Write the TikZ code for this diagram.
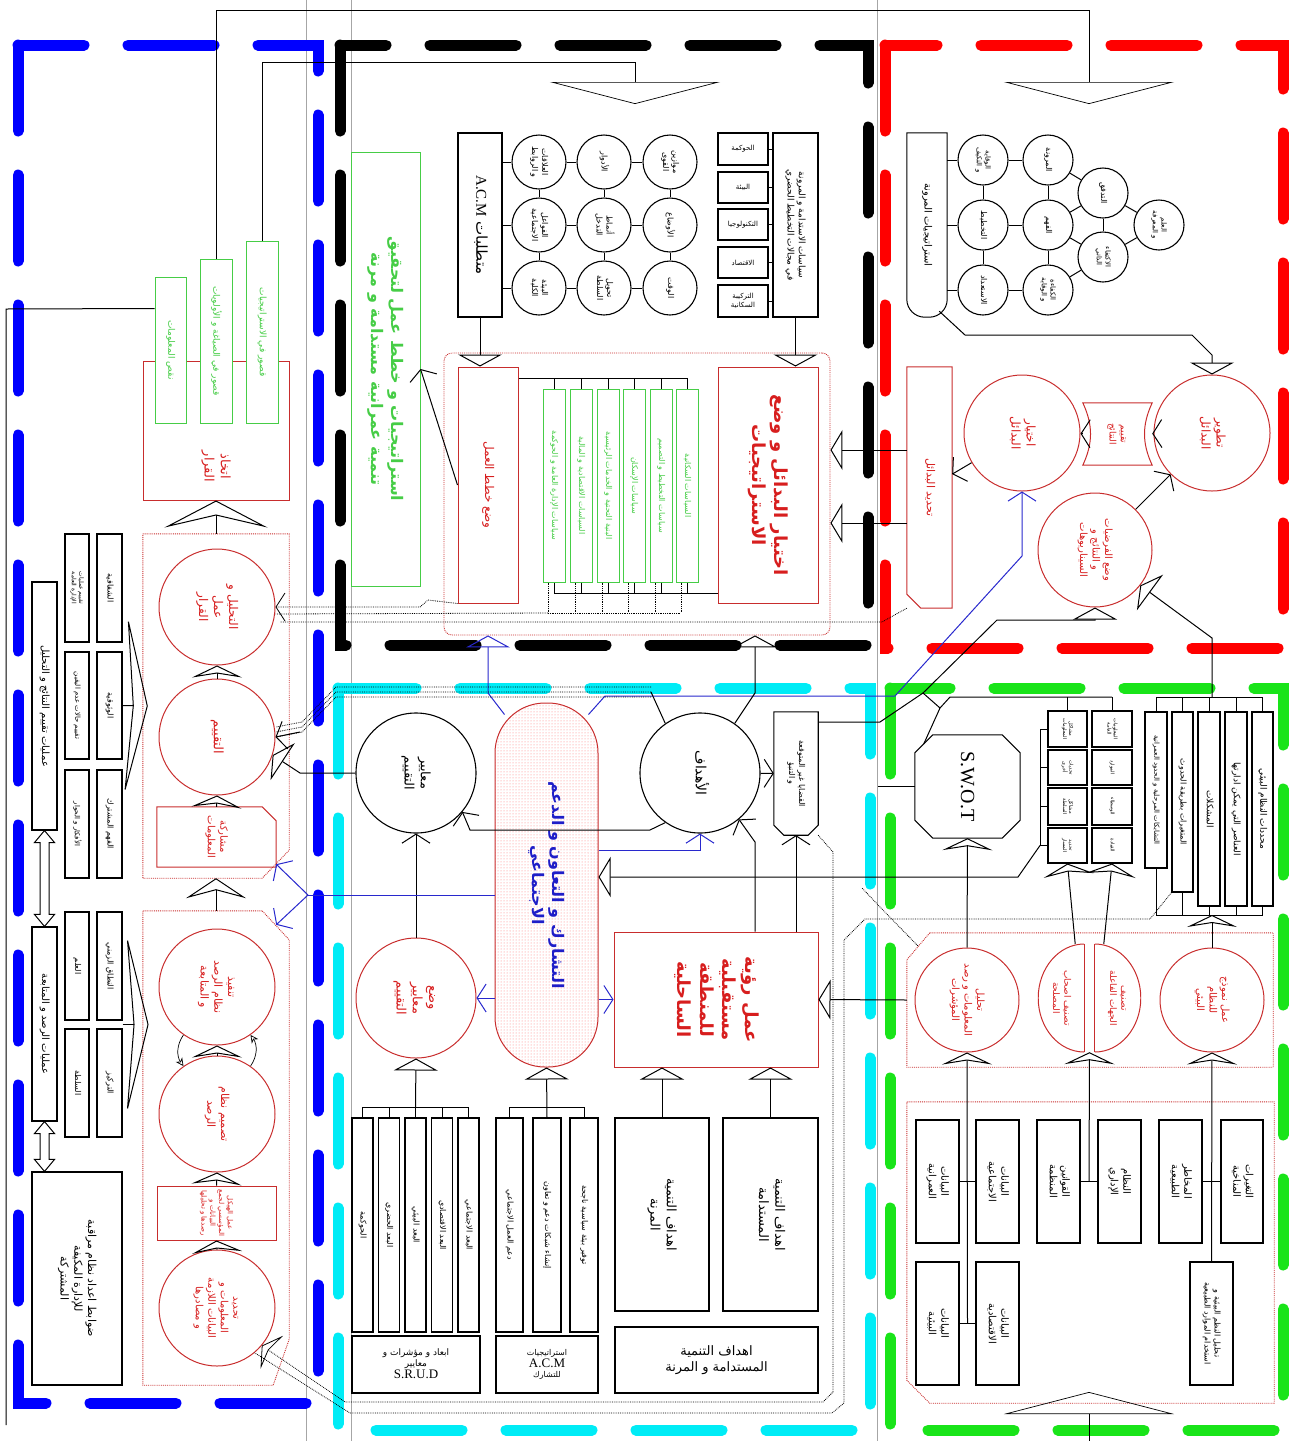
\documentclass[tikz,border=0pt]{standalone}
\usepackage{fontspec}
\usepackage{graphicx}
\setmainfont{Liberation Serif}
\newfontfamily\arabicfont[Script=Arabic]{DejaVu Sans}
\TeXXeTstate=1
\usetikzlibrary{arrows.meta,patterns,calc}

\definecolor{frblue}{RGB}{0,0,255}
\definecolor{frred}{RGB}{255,0,0}
\definecolor{frcyan}{RGB}{0,236,246}
\definecolor{frgreen}{RGB}{25,228,25}
\definecolor{redln}{RGB}{200,45,45}
\definecolor{redtx}{RGB}{215,30,30}
\definecolor{grnln}{RGB}{70,205,70}
\definecolor{bluetx}{RGB}{30,30,200}
\definecolor{bluln}{RGB}{40,40,205}

\newcommand{\artx}[1]{{\arabicfont\beginR#1\endR}}
\newcommand{\vtx}[1]{\rotatebox{-90}{\begin{tabular}{@{}c@{}}#1\end{tabular}}}
\newcommand{\htx}[1]{\begin{tabular}{@{}c@{}}#1\end{tabular}}

\begin{document}
\begin{tikzpicture}[x=1pt, y=-1pt,
    fs/.style={font=\fontsize{#1}{\fpeval{1.25*#1}}\selectfont},
    fsb/.style={font=\fontsize{#1}{\fpeval{1.25*#1}}\selectfont\bfseries},
    frm/.style={line width=11pt, dash pattern=on 86pt off 44pt, line cap=round},
    guide/.style={gray!70, line width=0.6pt},
    box/.style={draw, line width=1.1pt, inner sep=0pt},
    gbox/.style={draw=grnln, line width=1pt, fill=white, inner sep=0pt, text=grnln},
    rbox/.style={draw=redln, line width=1pt, inner sep=0pt, text=redtx},
    rtxt/.style={inner sep=0pt, text=redtx},
    dotr/.style={draw=redln, densely dotted, line width=0.9pt},
    bcirc/.style={circle, draw, line width=1.1pt, inner sep=0pt},
    rcirc/.style={circle, draw=redln, line width=1pt, inner sep=0pt, text=redtx},
    ln/.style={line width=1pt},
    thinln/.style={line width=0.7pt},
    dotln/.style={densely dotted, line width=0.8pt},
    blueln/.style={draw=bluln, line width=1pt},
    vee/.style={-{Straight Barb[length=9pt,width=28pt]}},
    tri/.style={-{Triangle[open,length=12pt,width=44pt]}},
    triL/.style={-{Triangle[open,length=12pt,width=40pt]}},
    chev/.style={-{Stealth[open,length=12pt,width=50pt,inset=4pt]}},
    bigchev/.style={-{Stealth[open,length=27pt,width=103pt,inset=12pt]}},
    sidechev/.style={-{Stealth[open,length=22pt,width=180pt,inset=7pt]}},
    bigtri/.style={-{Triangle[open,length=22pt,width=170pt]}},
]
\useasboundingbox (0,0) rectangle (1291,1441);

% guide lines and frames
\draw[guide] (306,0) -- (306,1441);
\draw[guide] (351,0) -- (351,1441);
\draw[guide] (877,0) -- (877,1441);
\draw[frm, frblue] (18,45) rectangle (318,1403);
\draw[frm, black] (340,45) rectangle (868,645);
\draw[frm, frred] (885,45) rectangle (1283,648);
\draw[frm, frcyan] (338,688) rectangle (870,1430);
\draw[frm, frgreen] (890,688) rectangle (1283,1430);

% ---------- black part: strategies
\node[gbox, minimum width=69pt, minimum height=434pt, fsb=16] (gstrat) at (385.5,369)
    {\vtx{\artx{استراتيجيات و خطط عمل لتحقيق}\\\artx{تنمية عمرانية مستدامة و مرنة}}};
\node[box, minimum width=44pt, minimum height=184pt, fs=15] (acm) at (480,225)
    {\vtx{\artx{متطلبات \beginL{\rmfamily A.C.M}\endL}}};
\node[bcirc, minimum size=54pt, fs=8] (net1) at (539,162) {\vtx{\artx{العلاقات}\\\artx{و الروابط}}};
\node[bcirc, minimum size=54pt, fs=8] (net2) at (539,225) {\vtx{\artx{الفواعل}\\\artx{الاجتماعية}}};
\node[bcirc, minimum size=54pt, fs=8] (net3) at (539,288) {\vtx{\artx{البيئة}\\\artx{الكلية}}};
\node[bcirc, minimum size=54pt, fs=8] (mid1) at (604,162) {\vtx{\artx{الأدوار}}};
\node[bcirc, minimum size=54pt, fs=8] (mid2) at (604,225) {\vtx{\artx{أنماط}\\\artx{التدخل}}};
\node[bcirc, minimum size=54pt, fs=8] (mid3) at (604,288) {\vtx{\artx{تحويل}\\\artx{السلطة}}};
\node[bcirc, minimum size=54pt, fs=8] (far1) at (670,162) {\vtx{\artx{موازين}\\\artx{القوى}}};
\node[bcirc, minimum size=54pt, fs=8] (far2) at (670,225) {\vtx{\artx{الأوضاع}}};
\node[bcirc, minimum size=54pt, fs=8] (far3) at (670,288) {\vtx{\artx{الوقت}}};
\node[box, minimum width=45pt, minimum height=184pt, fs=9] (sustpol) at (795.5,225)
    {\vtx{\artx{سياسات الاستدامة و المرونة}\\\artx{في مجالات التخطيط الحضري}}};
\node[box, minimum width=50pt, minimum height=32pt, fs=7] (sec1) at (743,149) {\artx{الحوكمة}};
\node[box, minimum width=50pt, minimum height=31pt, fs=7] (sec2) at (743,187.5) {\artx{البيئة}};
\node[box, minimum width=50pt, minimum height=31pt, fs=7] (sec3) at (743,224.5) {\artx{التكنولوجيا}};
\node[box, minimum width=50pt, minimum height=31pt, fs=7] (sec4) at (743,262.5) {\artx{الاقتصاد}};
\node[box, minimum width=50pt, minimum height=32pt, fs=7] (sec5) at (743,301) {\htx{\artx{التركيبة}\\\artx{السكانية}}};

\node[dotr, rounded corners=8pt, minimum width=386pt, minimum height=282pt] (polgrp) at (637,494) {};
\node[rbox, minimum width=60pt, minimum height=236pt, fs=12] (plans) at (488,485)
    {\vtx{\artx{وضع خطط العمل}}};
\node[rbox, minimum width=100pt, minimum height=236pt, fsb=18] (choose) at (768,485)
    {\vtx{\artx{اختيار البدائل و وضع}\\\artx{الاستراتيجيات}}};
\node[gbox, minimum width=22pt, minimum height=193pt, fs=8] (gp1) at (554,485.5) {\vtx{\artx{سياسات الإدارة العامة و الحوكمة}}};
\node[gbox, minimum width=22pt, minimum height=193pt, fs=8] (gp2) at (581,485.5) {\vtx{\artx{السياسات الاقتصادية و المالية}}};
\node[gbox, minimum width=22pt, minimum height=193pt, fs=8] (gp3) at (608,485.5) {\vtx{\artx{البنية التحتية و الخدمات الرئيسية}}};
\node[gbox, minimum width=22pt, minimum height=193pt, fs=8] (gp4) at (634,485.5) {\vtx{\artx{سياسات الإسكان}}};
\node[gbox, minimum width=22pt, minimum height=193pt, fs=8] (gp5) at (661,485.5) {\vtx{\artx{سياسات التخطيط و التصميم}}};
\node[gbox, minimum width=22pt, minimum height=193pt, fs=8] (gp6) at (687,485.5) {\vtx{\artx{السياسات السكانية}}};

% ---------- red part: resilience
\node[inner sep=0pt, minimum width=40pt, minimum height=184pt, fs=10] (rstrat) at (927,225)
    {\vtx{\artx{استراتيجيات المرونة}}};
\draw[ln] (rstrat.west) [rounded corners=18pt] -- (rstrat.south west) -- (rstrat.south east)
    -- (rstrat.east) [sharp corners] -- (rstrat.north east) -- (rstrat.north west) -- cycle;
\node[bcirc, minimum size=50pt, fs=7] (rc1a) at (983,160) {\vtx{\artx{الوقاية}\\\artx{و التكيف}}};
\node[bcirc, minimum size=50pt, fs=8] (rc1b) at (983,225) {\vtx{\artx{التخطيط}}};
\node[bcirc, minimum size=50pt, fs=8] (rc1c) at (983,290) {\vtx{\artx{الاستعداد}}};
\node[bcirc, minimum size=50pt, fs=8] (rc2a) at (1048,160) {\vtx{\artx{المرونة}}};
\node[bcirc, minimum size=50pt, fs=8] (rc2b) at (1048,225) {\vtx{\artx{الفهم}}};
\node[bcirc, minimum size=50pt, fs=7] (rc2c) at (1048,290) {\vtx{\artx{الكفاءة}\\\artx{و الوقاية}}};
\node[bcirc, minimum size=50pt, fs=8] (rc3a) at (1103,193) {\vtx{\artx{التدفق}}};
\node[bcirc, minimum size=50pt, fs=7] (rc3b) at (1103,257) {\vtx{\artx{الاكتفاء}\\\artx{الذاتي}}};
\node[bcirc, minimum size=50pt, fs=7] (rc4) at (1159,225) {\vtx{\artx{العلم}\\\artx{و المعرفة}}};

\node[rcirc, minimum size=116pt, fs=12] (ralt) at (1212,433) {\vtx{\artx{تطوير}\\\artx{البدائل}}};
\node[rtxt, minimum width=69pt, minimum height=62pt, fs=9] (reval) at (1117.5,434) {\vtx{\artx{تقييم}\\\artx{النتائج}}};
\draw[redln, line width=1pt] (reval.north west) -- (reval.north east) to[bend right=25] (reval.south east)
    -- (reval.south west) to[bend right=25] (reval.north west) -- cycle;
\node[rcirc, minimum size=116pt, fs=12] (rchoose) at (1022,433) {\vtx{\artx{اختيار}\\\artx{البدائل}}};
\node[rtxt, minimum width=45pt, minimum height=241pt, fs=11] (tdalt) at (929.5,487.5) {\vtx{\artx{تحديد البدائل}}};
\draw[redln, line width=1pt] (tdalt.north west) -- (tdalt.north east) -- (tdalt.south east)
    -- ([xshift=14pt]tdalt.south west) -- ([yshift=14pt]tdalt.south west) -- cycle;
\node[rcirc, minimum size=114pt, fs=10] (rhyp) at (1095,550)
    {\vtx{\artx{وضع الفرضيات}\\\artx{و النتائج و}\\\artx{السيناريوهات}}};

% ---------- cyan part: participation
\node[bcirc, minimum size=120pt, fs=13] (crit) at (416,773) {\vtx{\artx{معايير}\\\artx{التقييم}}};
\node[draw=redln, line width=1pt, rounded corners=50pt, pattern=dots, pattern color=red!55,
    minimum width=103pt, minimum height=364pt, inner sep=0pt, text=bluetx, fsb=16] (cap) at (546.5,885)
    {\vtx{\artx{التشارك و التعاون و الدعم}\\\artx{الاجتماعي}}};
\node[bcirc, minimum size=120pt, fs=14] (goals) at (700,773) {\vtx{\artx{الأهداف}}};
\node[inner sep=0pt, minimum width=44pt, minimum height=123pt, fs=8] (unc) at (796,773.5)
    {\vtx{\artx{القضايا غير المتوقعة}\\\artx{و التنبؤ}}};
\draw[line width=1.1pt] (unc.north west) -- (unc.north east) -- ([yshift=10pt]unc.south east)
    -- ([xshift=-10pt]unc.south east) -- ([xshift=10pt]unc.south west) -- ([yshift=10pt]unc.south west) -- cycle;
\node[rcirc, minimum size=120pt, fs=13] (mkcrit) at (416,998) {\vtx{\artx{وضع}\\\artx{معايير}\\\artx{التقييم}}};
\node[rbox, minimum width=204pt, minimum height=135pt, fsb=18] (vision) at (716,999.5)
    {\vtx{\artx{عمل رؤية}\\\artx{مستقبلية}\\\artx{للمنطقة}\\\artx{الساحلية}}};

\node[box, minimum width=21pt, minimum height=214pt, fs=8] (dm1) at (362.5,1225) {\vtx{\artx{الحوكمة}}};
\node[box, minimum width=21pt, minimum height=214pt, fs=8] (dm2) at (389,1225) {\vtx{\artx{البعد الحضري}}};
\node[box, minimum width=21pt, minimum height=214pt, fs=8] (dm3) at (415.5,1225) {\vtx{\artx{البعد البيئي}}};
\node[box, minimum width=21pt, minimum height=214pt, fs=8] (dm4) at (442,1225) {\vtx{\artx{البعد الاقتصادي}}};
\node[box, minimum width=21pt, minimum height=214pt, fs=8] (dm5) at (468.5,1225) {\vtx{\artx{البعد الاجتماعي}}};
\node[box, minimum width=128pt, minimum height=57pt, fs=9] (srud) at (416,1364.5)
    {\htx{\artx{ابعاد و مؤشرات و}\\\artx{معايير}\\{\fontsize{13}{15}\selectfont S.R.U.D}}};
\node[box, minimum width=27pt, minimum height=214pt, fs=8] (as1) at (509.5,1225) {\vtx{\artx{دعم العمل الاجتماعي}}};
\node[box, minimum width=28pt, minimum height=214pt, fs=8] (as2) at (547,1225) {\vtx{\artx{إنشاء شبكات دعم و تعاون}}};
\node[box, minimum width=28pt, minimum height=214pt, fs=8] (as3) at (584,1225) {\vtx{\artx{توفير بيئة سياسية ناجحة}}};
\node[box, minimum width=102pt, minimum height=57pt, fs=8] (acmst) at (547,1364.5)
    {\htx{\artx{استراتيجيات}\\{\fontsize{13}{15}\selectfont A.C.M}\\\artx{للتشارك}}};
\node[box, minimum width=94pt, minimum height=193pt, fs=13] (gres) at (662,1214.5) {\vtx{\artx{اهداف التنمية}\\\artx{المرنة}}};
\node[box, minimum width=95pt, minimum height=193pt, fs=13] (gsus) at (770.5,1214.5) {\vtx{\artx{اهداف التنمية}\\\artx{المستدامة}}};
\node[box, minimum width=203pt, minimum height=66pt, fs=13] (gboth) at (716.5,1360)
    {\htx{\artx{اهداف التنمية}\\\artx{المستدامة و المرنة}}};

% ---------- green part: analysis
\node[inner sep=0pt, minimum width=105pt, minimum height=103pt, font=\fontsize{20}{22}\selectfont] (swot) at (967.5,786.5)
    {\rotatebox{-90}{S.W.O.T}};
\draw[ln] ([xshift=18pt]swot.north west) -- ([xshift=-18pt]swot.north east) -- ([yshift=-18pt]swot.north east)
    -- ([yshift=18pt]swot.south east) -- ([xshift=-18pt]swot.south east) -- ([xshift=18pt]swot.south west)
    -- ([yshift=18pt]swot.south west) -- ([yshift=-18pt]swot.north west) -- cycle;
\node[box, minimum width=39pt, minimum height=36pt, fs=5] (s11) at (1067.5,729) {\vtx{\artx{مشاكل}\\\artx{المعلومات}}};
\node[box, minimum width=40pt, minimum height=36pt, fs=5] (s12) at (1112,729) {\vtx{\artx{المعلومات}\\\artx{العامة}}};
\node[box, minimum width=39pt, minimum height=35pt, fs=5] (s21) at (1067.5,767.5) {\vtx{\artx{تحديات}\\\artx{أخرى}}};
\node[box, minimum width=40pt, minimum height=35pt, fs=5] (s22) at (1112,767.5) {\vtx{\artx{الموارد}}};
\node[box, minimum width=39pt, minimum height=37pt, fs=5] (s31) at (1067.5,806.5) {\vtx{\artx{مشاكل}\\\artx{السلطة}}};
\node[box, minimum width=40pt, minimum height=37pt, fs=5] (s32) at (1112,806.5) {\vtx{\artx{الوسطاء}}};
\node[box, minimum width=39pt, minimum height=35pt, fs=5] (s41) at (1067.5,845.5) {\vtx{\artx{تحديد}\\\artx{المسار}}};
\node[box, minimum width=40pt, minimum height=35pt, fs=5] (s42) at (1112,845.5) {\vtx{\artx{القيادة}}};
\node[box, minimum width=22pt, minimum height=156pt, fs=7] (t1) at (1156,790) {\vtx{\artx{التشابكات المرحلية و الحدود العمرانية}}};
\node[box, minimum width=21pt, minimum height=180pt, fs=8] (t2) at (1182.5,802) {\vtx{\artx{المتغيرات بطريقة الحدوث}}};
\node[box, minimum width=22pt, minimum height=194pt, fs=9] (t3) at (1209,809) {\vtx{\artx{المشكلات}}};
\node[box, minimum width=22pt, minimum height=194pt, fs=9] (t4) at (1236,809) {\vtx{\artx{العناصر التي يمكن ادارتها}}};
\node[box, minimum width=21pt, minimum height=194pt, fs=9] (t5) at (1262.5,809) {\vtx{\artx{محددات النظام البيئي}}};

\node[inner sep=0pt, minimum width=366pt, minimum height=134pt] (gdot) at (1090,1000) {};
\draw[dotr] ([xshift=23pt]gdot.north west) -- (gdot.north east) -- (gdot.south east) -- (gdot.south west)
    -- ([yshift=-27pt]gdot.north west) -- cycle;
\node[rcirc, minimum size=104pt, fs=10] (gan) at (967,1000) {\vtx{\artx{تحليل}\\\artx{المعلومات و رصد}\\\artx{المؤشرات}}};
\node[rtxt, minimum width=46pt, minimum height=108pt, fs=9] (hleft) at (1061,998) {\vtx{\artx{تصنيف اصحاب}\\\artx{المصلحة}}};
\node[rtxt, minimum width=46pt, minimum height=108pt, fs=9] (hright) at (1118,998) {\vtx{\artx{تصنيف}\\\artx{الجهات الفاعلة}}};
\begin{scope}
  \clip (hleft.north west) rectangle (hleft.south east);
  \draw[redln, line width=1pt] (hleft.east) ellipse [x radius=46pt, y radius=54pt];
\end{scope}
\draw[redln, line width=1pt] (hleft.north east) -- (hleft.south east);
\begin{scope}
  \clip (hright.north west) rectangle (hright.south east);
  \draw[redln, line width=1pt] (hright.west) ellipse [x radius=46pt, y radius=54pt];
\end{scope}
\draw[redln, line width=1pt] (hright.north west) -- (hright.south west);
\node[rcirc, minimum size=104pt, fs=10] (gmodel) at (1212,1000) {\vtx{\artx{عمل نموذج}\\\artx{للنظام}\\\artx{البيئي}}};

\node[inner sep=0pt, minimum width=367pt, minimum height=301pt] (gdot2) at (1090.5,1252.5) {};
\draw[dotr] (gdot2.north west) -- (gdot2.north east) -- (gdot2.south east) -- ([xshift=23pt]gdot2.south west)
    -- ([yshift=23pt]gdot2.south west) -- cycle;
\node[box, minimum width=43pt, minimum height=123pt, fs=10] (d1) at (937.5,1181.5) {\vtx{\artx{البيانات}\\\artx{العمرانية}}};
\node[box, minimum width=43pt, minimum height=123pt, fs=10] (d2) at (997.5,1181.5) {\vtx{\artx{البيانات}\\\artx{الاجتماعية}}};
\node[box, minimum width=43pt, minimum height=123pt, fs=10] (d3) at (1058.5,1181.5) {\vtx{\artx{القوانين}\\\artx{المنظمة}}};
\node[box, minimum width=43pt, minimum height=123pt, fs=10] (d4) at (1119.5,1181.5) {\vtx{\artx{النظام}\\\artx{الإداري}}};
\node[box, minimum width=43pt, minimum height=123pt, fs=10] (d5) at (1180.5,1181.5) {\vtx{\artx{المخاطر}\\\artx{الطبيعية}}};
\node[box, minimum width=42pt, minimum height=123pt, fs=10] (d6) at (1242,1181.5) {\vtx{\artx{التغيرات}\\\artx{المناخية}}};
\node[box, minimum width=43pt, minimum height=123pt, fs=10] (d7) at (937.5,1323.5) {\vtx{\artx{البيانات}\\\artx{البيئية}}};
\node[box, minimum width=43pt, minimum height=123pt, fs=10] (d8) at (997.5,1323.5) {\vtx{\artx{البيانات}\\\artx{الاقتصادية}}};
\node[box, minimum width=43pt, minimum height=123pt, fs=8] (d9) at (1211.5,1323.5)
    {\vtx{\artx{تحليل النظم البيئية و}\\\artx{استخدام الموارد الطبيعية}}};

% ---------- blue part: decision, evaluation, monitoring
\node[rbox, minimum width=146pt, minimum height=139pt] (decide) at (216,430.5) {};
\node[rtxt, fs=13] (decidelbl) at ([yshift=34pt]decide.south) {\vtx{\artx{اتخاذ}\\\artx{القرار}}};
\node[gbox, minimum width=31pt, minimum height=146pt, fs=9] (gq1) at (170.5,350) {\vtx{\artx{نقص المعلومات}}};
\node[gbox, minimum width=32pt, minimum height=164pt, fs=9] (gq2) at (216,341) {\vtx{\artx{قصور في الصياغة و الأولويات}}};
\node[gbox, minimum width=32pt, minimum height=182pt, fs=9] (gq3) at (262,332) {\vtx{\artx{قصور في الاستراتيجيات}}};

\node[inner sep=0pt, minimum width=146pt, minimum height=344pt] (bdot1) at (216,706) {};
\draw[dotr] (bdot1.north west) -- (bdot1.north east) -- ([yshift=28pt]bdot1.south east)
    -- ([xshift=-27pt]bdot1.south east) -- (bdot1.south west) -- cycle;
\node[rcirc, minimum size=116pt, fs=12] (banal) at (217,607) {\vtx{\artx{التحليل و}\\\artx{عمل}\\\artx{القرار}}};
\node[rcirc, minimum size=116pt, fs=13] (beval) at (217,737) {\vtx{\artx{التقييم}}};
\node[rtxt, minimum width=119pt, minimum height=60pt, fs=10] (binfo) at (216.5,837) {\vtx{\artx{مشاركة}\\\artx{المعلومات}}};
\draw[redln, line width=1pt] (binfo.north west) -- ([xshift=-14pt]binfo.north east) -- ([yshift=-14pt]binfo.north east)
    -- (binfo.south east) -- (binfo.south west) -- cycle;

\node[inner sep=0pt, minimum width=146pt, minimum height=474pt] (bdot2) at (216,1148) {};
\draw[dotr] (bdot2.north west) -- ([xshift=-27pt]bdot2.north east) -- ([yshift=-29pt]bdot2.north east)
    -- ([yshift=46pt]bdot2.south east) -- ([xshift=-16pt]bdot2.south east) -- (bdot2.south west) -- cycle;
\node[rcirc, minimum size=116pt, fs=11] (bimpl) at (217,987) {\vtx{\artx{تنفيذ}\\\artx{نظام الرصد}\\\artx{و المتابعة}}};
\node[rcirc, minimum size=116pt, fs=11] (bdesign) at (217,1114) {\vtx{\artx{تصميم نظام}\\\artx{الرصد}}};
\node[rbox, minimum width=119pt, minimum height=54pt, fs=7] (bstruct) at (216.5,1213)
    {\vtx{\artx{عمل الهيكل}\\\artx{المؤسسي لجمع}\\\artx{البيانات و}\\\artx{رصدها و تحليلها}}};
\node[rcirc, minimum size=116pt, fs=10] (bdata) at (217,1308)
    {\vtx{\artx{تحديد}\\\artx{المعلومات و}\\\artx{البيانات اللازمة}\\\artx{و مصادرها}}};

\node[box, minimum width=25pt, minimum height=248pt, fs=10] (lc1) at (44.5,706) {\vtx{\artx{عمليات تقييم النتائج و التحليل}}};
\node[box, minimum width=24pt, minimum height=108pt, fs=6] (lb11) at (77,588) {\vtx{\artx{تقييم عمليات}\\\artx{الإدارة العامة}}};
\node[box, minimum width=25pt, minimum height=108pt, fs=8] (lb12) at (109.5,588) {\vtx{\artx{الشفافية}}};
\node[box, minimum width=24pt, minimum height=107pt, fs=7] (lb21) at (77,705.5) {\vtx{\artx{تقييم حالات عدم اليقين}}};
\node[box, minimum width=25pt, minimum height=107pt, fs=8] (lb22) at (109.5,705.5) {\vtx{\artx{الوثوقية}}};
\node[box, minimum width=24pt, minimum height=108pt, fs=7] (lb31) at (77,824) {\vtx{\artx{الأفكار و الحوار}}};
\node[box, minimum width=25pt, minimum height=108pt, fs=8] (lb32) at (109.5,824) {\vtx{\artx{الفهم المشترك}}};
\node[box, minimum width=25pt, minimum height=194pt, fs=10] (lc2) at (44.5,1024) {\vtx{\artx{عمليات الرصد و المتابعة}}};
\node[box, minimum width=24pt, minimum height=108pt, fs=8] (lm11) at (77,966) {\vtx{\artx{العلم}}};
\node[box, minimum width=25pt, minimum height=108pt, fs=8] (lm12) at (109.5,966) {\vtx{\artx{النطاق الزمني}}};
\node[box, minimum width=24pt, minimum height=108pt, fs=8] (lm21) at (77,1083) {\vtx{\artx{السلطة}}};
\node[box, minimum width=25pt, minimum height=108pt, fs=8] (lm22) at (109.5,1083) {\vtx{\artx{التركيز}}};
\node[box, minimum width=90pt, minimum height=213pt, fs=11] (ctrl) at (77,1278.5)
    {\vtx{\artx{ضوابط اعداد نظام مراقبة}\\\artx{للإدارة المكيفة}\\\artx{المشتركة}}};

% ---------- connectors: black part
\draw[ln] (acm.east |- net1) -- (net1) -- (mid1) -- (far1);
\draw[ln] (acm.east |- net2) -- (net2) -- (mid2) -- (far2);
\draw[ln] (acm.east |- net3) -- (net3) -- (mid3) -- (far3);
\draw[ln] (net1) -- (net2) -- (net3);
\draw[ln] (mid1) -- (mid2) -- (mid3);
\draw[ln] (far1) -- (far2) -- (far3);
\foreach \s in {1,...,5}
  \draw[ln] (sec\s.east) -- (sec\s.east -| sustpol.west);
\draw[ln, tri] (acm) -- (acm |- plans.north);
\draw[ln, tri] (sustpol) -- (sustpol |- choose.north);
\draw[ln, vee] (plans.west) -- (gstrat.east);
\draw[ln] (plans.east |- 0,378) -- (gp6.north |- 0,378);
\draw[ln] (gp1.south |- 0,593) -- (choose.west |- 0,593);
\foreach \g in {1,...,6} {
  \draw[ln] (gp\g.north |- 0,378) -- (gp\g.north);
  \draw[ln] (gp\g.south) -- (gp\g.south |- 0,593);
  \draw[dotln] ([xshift=-6pt]gp\g.south) -- ([xshift=-6pt]gp\g.south |- 0,613);
}
\draw[dotln] ([xshift=-6pt]gp1.south |- 0,613) -- ([xshift=-6pt]gp6.south |- 0,613);
\draw[dotln, vee] (plans.south west) -- (428,600) -- (420,607) -- (banal.east);
\draw[dotln] ([xshift=-6pt]gp1.south |- 0,613) -- (banal.east |- 0,614);
\draw[dotln] (tdalt.south west) -- (882,622) -- (280,622);
\draw[thinln, bigtri] (gq3.north) -- (gq3.north |- 0,62) -| (635,104);
\draw[thinln, bigtri] (gq2.north) -- (gq2.north |- 0,10) -| (1089,104);
\draw[ln, triL] (tdalt.west |- 0,450) -- (polgrp.east |- 0,450);
\draw[ln, triL] (tdalt.west |- 0,523) -- (polgrp.east |- 0,523);

% ---------- connectors: red part
\draw[ln] (rstrat.east |- rc1a) -- (rc1a) -- (rc2a);
\draw[ln] (rstrat.east |- rc1b) -- (rc1b) -- (rc2b);
\draw[ln] (rstrat.east |- rc1c) -- (rc1c) -- (rc2c);
\draw[ln] (rc1a) -- (rc1b) -- (rc1c);
\draw[ln] (rc2a) -- (rc2b) -- (rc2c);
\draw[ln] (rc2a) -- (rc3a) -- (rc2b) -- (rc3b) -- (rc2c);
\draw[ln] (rc3a) -- (rc3b);
\draw[ln] (rc3a) -- (rc4) -- (rc3b);
\draw[ln, tri] ([xshift=-8pt,yshift=6pt]rstrat.south east) -- (965,335) -- (1192,335) -- (1212,355) -- (ralt.north);
\draw[ln, vee] (ralt) -- (reval);
\draw[ln, vee] (reval) -- (rchoose);
\draw[ln, vee] (rchoose) -- (tdalt);
\draw[ln, vee] (rhyp) -- (ralt);
\draw[ln, tri] ([xshift=9pt,yshift=-9pt]swot.north west) -- (940,708) -- (923,693) -- (997,620) -- (1095,620) -- (rhyp.south);
\draw[ln] (940,708) -- (950,697) -- (s12.north |- 0,697);
\draw[ln] (923,693) -- (880,722) -- (unc.east |- 0,722);
\draw[ln, tri] (1212,697) -- (1212,638) -- (rhyp.-38);

% ---------- connectors: cyan part
\draw[blueln, vee] ([xshift=-10pt,yshift=-12pt]cap.north east) -- (605,696) -- (895,696) -- (1022,556) -- (rchoose.south);
\draw[blueln, tri] ([xshift=10pt,yshift=-12pt]cap.north west) -- (488,693) -- (polgrp.south -| 488,0);
\draw[ln, tri] (goals.55) -- (755,693) -- (polgrp.south -| 755,0);
\draw[ln] (dm1.north) -- (dm1.north |- 0,1107) -- (dm5.north |- 0,1107) -- (dm5.north);
\foreach \d in {2,3,4}
  \draw[ln] (dm\d.north) -- (dm\d.north |- 0,1107);
\draw[ln, tri] (dm3.north |- 0,1107) -- (mkcrit.south);
\draw[ln] (as1.north) -- (as1.north |- 0,1107) -- (as3.north |- 0,1107) -- (as3.north);
\draw[ln, tri] (as2.north) -- (cap.south);
\draw[ln, tri] (gres.north) -- (gres.north |- vision.south);
\draw[ln, tri] (gsus.north) -- (gsus.north |- vision.south);
\draw[ln, vee] (mkcrit) -- (crit);
\draw[blueln, vee] (cap.west |- mkcrit) -- (mkcrit);
\draw[blueln, vee] (cap.east |- vision) -- (vision);
\draw[ln, vee] (goals.235) -- (650,830) -- (470,830) -- (crit.-40);
\draw[blueln, vee] (cap.east |- 0,850) -- (700,850) -- (goals.south);
\draw[ln, vee] (vision.north -| 755,0) -- (755,842) -- (goals.-50);
\draw[ln, vee] (vision.north -| unc.south) -- (unc.south);
\draw[ln, vee] (goals) -- (unc);
\draw[ln, tri] (crit.west) -- (300,773) -- (beval.-18);
\draw[ln] (goals.125) -- (651,692);
\foreach \d in {0,5,10}
  \draw[dotln] (651,687+\d) -- (336,687+\d) -- (302,722+\d) -- (276,727+\d);
\draw[ln, vee] (300,732) -- (beval.east);
\coordinate (bsplit) at (308,895);
\draw[blueln] (cap.west |- bsplit) -- (bsplit);
\draw[blueln, vee] (bsplit) -- ([xshift=-13pt,yshift=14pt]bdot1.south east);
\draw[blueln, vee] (bsplit) -- ([xshift=-13pt,yshift=-14pt]bdot2.north east);

% ---------- connectors: green part
\draw[ln] (swot.west) -- (878,786.5);
\draw[ln] (s11.north) -- (s11.north |- 0,697);
\draw[ln] (s12.north) -- (s12.north |- 0,697);
\coordinate (sbus) at (1040,845.5);
\draw[ln] (s11.west) -| (sbus) -- (s41.west);
\draw[ln] (s21.west) -- (s21.west -| sbus);
\draw[ln] (s31.west) -- (s31.west -| sbus);
\draw[ln, triL] (sbus) -- (1018,877) -- (cap.east |- 0,877);
\draw[ln] (t1.north |- 0,697) -- (t5.north |- 0,697);
\draw[ln] (t1.south |- 0,915) -- (t5.south |- 0,915);
\foreach \t in {1,...,5} {
  \draw[ln] (t\t.north) -- (t\t.north |- 0,697);
  \draw[ln] (t\t.south) -- (t\t.south |- 0,915);
}
\draw[ln, chev] (gmodel.north) -- (gmodel.north |- 0,915);
\draw[ln, chev] ([xshift=-9pt]hleft.north east) -- (s41.south);
\draw[ln, chev] ([xshift=9pt]hright.north west) -- (s42.south);
\draw[ln, chev] (gan.north) -- (swot.south);
\draw[ln, triL] (gdot.west) -- (vision.east);
\draw[ln] (d1) -- (d2);
\draw[ln] (d3) -- (d4);
\draw[ln] (d5) -- (d6);
\draw[ln] (d7) -- (d8);
\draw[ln, chev] ($(d7.east)!.5!(d8.west)$) -- (gan.south);
\draw[ln, chev] ($(d3.east)!.5!(d4.west)$) -- ($(hleft.south east)!.5!(hright.south west)$);
\draw[ln, chev] (d9.north) -- (gmodel.south);
\coordinate (gsrc) at (1089,1441);
\coordinate (gin) at (1089,1392);
\draw[thinln, bigtri] (gsrc) -- (gin);
\draw[dotln] (t2.south west) -- (1150,919) -- (865,919) -- (844,940) -- (844,1403) -- (832,1413) -- (350,1413) -- (bdata.-50);
\draw[dotln, -{Stealth[open,length=12pt,width=40pt]}] (unc.south east) -- (833,852) -- (833,1392) -- (823,1402) -- (345,1402) -- (bdata.-40);
\draw[dotln] ([xshift=11pt,yshift=-13pt]gdot.north west) -- (880,907) -- (862,888);

% ---------- connectors: blue part
\draw[ln, chev] (binfo.north) -- (beval.south);
\draw[ln, chev] (beval.north) -- (banal.south);
\draw[ln, bigchev] (bdot1.north) -- (decide.south);
\draw[ln, -{Stealth[open,length=20pt,width=60pt,inset=8pt]}] (bdot2.north) -- (bdot1.south);
\draw[ln, chev] (bdesign.north) -- (bimpl.south);
\draw[ln, chev] (bstruct.north) -- (bdesign.south);
\draw[ln, chev] (bdata.north) -- (bstruct.south);
\draw[thinln, -{Stealth[open,length=8pt,width=8pt]}] (bimpl.235) to[bend right=35] (bdesign.125);
\draw[thinln, -{Stealth[open,length=8pt,width=8pt]}] (bdesign.55) to[bend right=35] (bimpl.305);
\draw[ln, sidechev] (lb22.east) -- ([xshift=5pt]bdot1.west);
\draw[ln, sidechev] ($(lm12.south east)!.5!(lm22.north east)$) -- ++(26,0);
% hollow double arrows between the process boxes
\draw[ln] (lc1.south) -- ++(-10,12) -- ++(5.5,0) -- ($(lc2.north)+(-4.5,-12)$) -- ++(-5.5,0) -- (lc2.north)
    -- ++(10,-12) -- ++(-5.5,0) -- ($(lc1.south)+(4.5,12)$) -- ++(5.5,0) -- cycle;
\draw[ln] (lc2.south) -- ++(-10,12) -- ++(5.5,0) -- ($(lc2.south |- ctrl.north)+(-4.5,-12)$) -- ++(-5.5,0)
    -- (lc2.south |- ctrl.north) -- ++(10,-12) -- ++(-5.5,0) -- ($(lc2.south)+(4.5,12)$) -- ++(5.5,0) -- cycle;
\draw[ln] ([yshift=-32pt]gq1.north west) -- (6,309) -- (6,1425);

\end{tikzpicture}
\end{document}
